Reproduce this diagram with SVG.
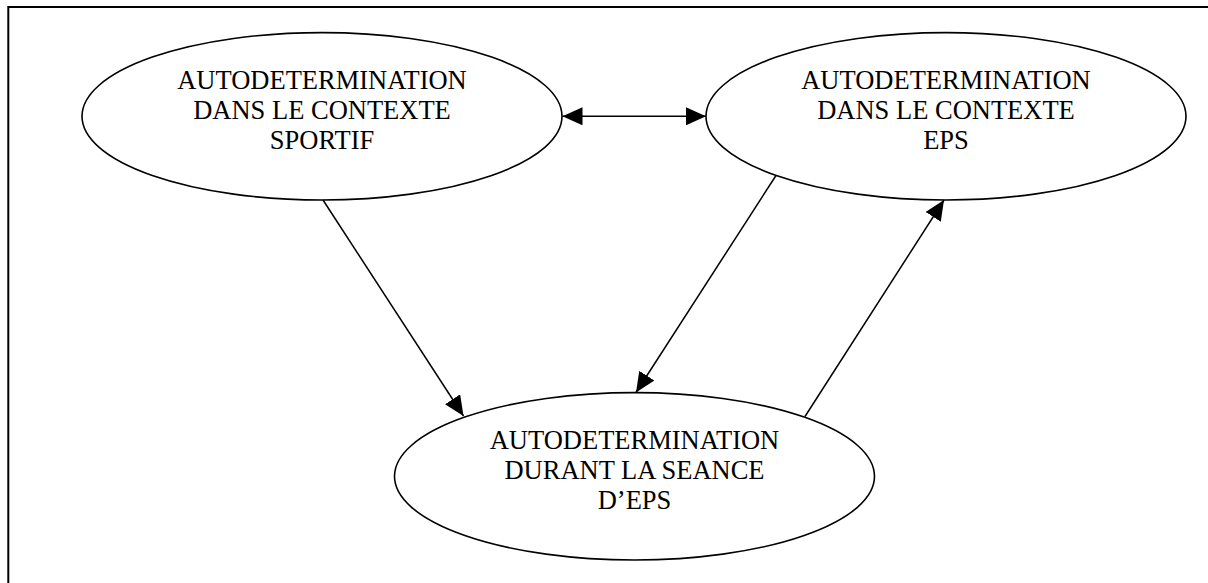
<svg xmlns="http://www.w3.org/2000/svg" width="1208" height="583" viewBox="0 0 1208 583">
<style>
.node ellipse{fill:#fff;stroke:#000;stroke-width:1.6}
.node text{font-family:'Liberation Serif','Times New Roman',Times,serif;font-size:26.5px;fill:#000;text-anchor:middle}
.conn line{stroke:#000;stroke-width:1.5}
.frame{stroke:#000;stroke-width:2;fill:none}
</style>
<defs>
<marker id="ah" markerWidth="20" markerHeight="18" refX="20" refY="9" orient="auto-start-reverse" markerUnits="userSpaceOnUse">
<path d="M0,0 L20,9 L0,18 z" fill="#000"/>
</marker>
</defs>
<rect width="1208" height="583" fill="#fff"/>
<path class="frame" d="M8.3,583 L8.3,7 L1208,7"/>
<g id="n-sportif" class="node" font-family="Liberation Serif, serif">
<ellipse cx="322" cy="116.3" rx="240" ry="83.7"/>
<text x="322" y="89">AUTODETERMINATION</text>
<text x="322" y="119">DANS LE CONTEXTE</text>
<text x="322" y="149">SPORTIF</text>
</g>
<g id="n-eps" class="node" font-family="Liberation Serif, serif">
<ellipse cx="946" cy="116.3" rx="240" ry="83.7"/>
<text x="946" y="89">AUTODETERMINATION</text>
<text x="946" y="119">DANS LE CONTEXTE</text>
<text x="946" y="149">EPS</text>
</g>
<g id="n-seance" class="node" font-family="Liberation Serif, serif">
<ellipse cx="634.5" cy="476.3" rx="240" ry="83.7"/>
<text x="634.5" y="449">AUTODETERMINATION</text>
<text x="634.5" y="479">DURANT LA SEANCE</text>
<text x="634.5" y="509">D’EPS</text>
</g>
<g id="connectors" class="conn">
<line x1="562.5" y1="116.3" x2="706" y2="116.3" marker-start="url(#ah)" marker-end="url(#ah)"/>
<line x1="323" y1="200" x2="463.5" y2="416" marker-end="url(#ah)"/>
<line x1="776" y1="175.5" x2="636" y2="392.5" marker-end="url(#ah)"/>
<line x1="805" y1="416.5" x2="944" y2="200" marker-end="url(#ah)"/>
</g>
</svg>
